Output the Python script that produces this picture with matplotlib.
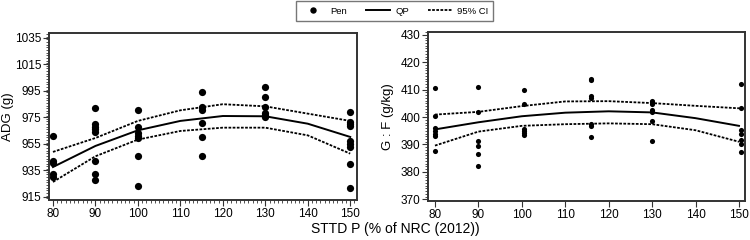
import numpy as np
import matplotlib.pyplot as plt
from matplotlib.ticker import MultipleLocator
from matplotlib.lines import Line2D

plt.rcParams['font.family'] = ['Liberation Sans', 'DejaVu Sans']

# --- ADG (левая панель): точки по загонам ---
adg_x = [80]*5 + [90]*8 + [100]*7 + [115]*6 + [130]*6 + [150]*9
adg_y = [961, 942, 940.5, 932.6, 930,
         982, 970, 968, 966, 964, 942, 932, 928,
         980.5, 968, 963.3, 961.3, 959.8, 945.8, 923.6,
         994.5, 982.7, 980.7, 970.6, 960.5, 945.9,
         997.8, 990.2, 982.7, 978.6, 976.9, 975.1,
         979.4, 971.9, 970.1, 968.6, 957.5, 955, 953, 939.9, 922]

# --- ADG: кривая QP и 95% ДИ ---
curve_x = [80, 90, 100, 110, 120, 130, 140, 150]
adg_fit = [937.6, 953.5, 965.3, 972.4, 976.1, 975.9, 970.3, 960.3]
adg_hi = [949, 959.5, 972.4, 980.4, 985, 983.4, 977.9, 972.4]
adg_lo = [926.3, 945.7, 958.3, 964.8, 967.3, 967.3, 961.5, 947.7]

# --- G:F (правая панель) ---
gf_x = [80]*7 + [90]*6 + [100.5]*6 + [116]*7 + [130]*7 + [150.5]*7
gf_y = [410.5, 400.3, 396, 395, 394, 393, 387.5,
        410.8, 401.8, 391.4, 389.5, 386.7, 382.2,
        410, 404.8, 395.8, 395, 394.2, 393.4,
        414, 413.6, 407.5, 406.8, 397.6, 396.8, 392.7,
        406, 405.4, 404.8, 402.6, 401.7, 398.6, 391.2,
        411.9, 403.2, 395.2, 393.7, 391.8, 390, 387.4]
gf_fit = [395.5, 398.1, 400.3, 401.6, 402.1, 401.7, 399.6, 396.8]
gf_hi = [400.9, 401.9, 404, 405.7, 405.8, 405.1, 404.1, 403.2]
gf_lo = [389.6, 394.7, 396.8, 397.4, 397.7, 397.4, 395.2, 391]

dot_style = (0, (1.5, 0.8))
spine_col = '#333333'

fig = plt.figure(figsize=(7.5, 2.4), dpi=100)
ax1 = fig.add_axes([0.0653, 0.1667, 0.4107, 0.696])
ax2 = fig.add_axes([0.5707, 0.1625, 0.4227, 0.704])

# левая панель
ax1.plot(adg_x, adg_y, 'o', color='black', ms=5.2, mew=0)
ax1.plot(curve_x, adg_fit, color='black', lw=1.4)
ax1.plot(curve_x, adg_hi, color='black', lw=1.3, ls=dot_style)
ax1.plot(curve_x, adg_lo, color='black', lw=1.3, ls=dot_style)
ax1.set_xlim(79.06, 151.6)
ax1.set_ylim(912.7, 1038.8)
ax1.set_xticks([80, 90, 100, 110, 120, 130, 140, 150])
ax1.set_yticks([915, 935, 955, 975, 995, 1015, 1035])
ax1.xaxis.set_minor_locator(MultipleLocator(1))
ax1.yaxis.set_minor_locator(MultipleLocator(2))
ax1.set_ylabel('ADG (g)', fontsize=9.5)
ax1.yaxis.set_label_coords(-0.112, 0.5)

# правая панель
ax2.plot(gf_x, gf_y, 'o', color='black', ms=3.7, mew=0)
ax2.plot(curve_x, gf_fit, color='black', lw=1.4)
ax2.plot(curve_x, gf_hi, color='black', lw=1.3, ls=dot_style)
ax2.plot(curve_x, gf_lo, color='black', lw=1.3, ls=dot_style)
ax2.set_xlim(78.4, 151.4)
ax2.set_ylim(369.4, 431)
ax2.set_xticks([80, 90, 100, 110, 120, 130, 140, 150])
ax2.set_yticks([370, 380, 390, 400, 410, 420, 430])
ax2.yaxis.set_minor_locator(MultipleLocator(1))
ax2.set_ylabel('G : F (g/kg)', fontsize=9.5)
ax2.yaxis.set_label_coords(-0.108, 0.5)

for ax in (ax1, ax2):
    for s in ax.spines.values():
        s.set_linewidth(1.4)
        s.set_color(spine_col)
    ax.tick_params(which='major', length=4, width=0.8, labelsize=8.5, pad=1.5, color=spine_col)
    ax.tick_params(which='minor', length=2, width=0.6, color=spine_col)

fig.text(0.527, 0.018, 'STTD P (% of NRC (2012))', fontsize=10, ha='center', va='bottom')

handles = [Line2D([], [], marker='o', ls='none', color='black', ms=4.6, mew=0),
           Line2D([], [], color='black', lw=1.4),
           Line2D([], [], color='black', lw=1.3, ls=dot_style)]
leg = fig.legend(handles, ['Pen', 'QP', '95% CI'], ncol=3, loc='upper center',
                 bbox_to_anchor=(0.526, 1.0), fontsize=6.8, frameon=True,
                 fancybox=False, handlelength=2.6, columnspacing=2.0,
                 borderpad=0.55, handletextpad=0.5, borderaxespad=0.15)
leg.get_frame().set_edgecolor('#555555')
leg.get_frame().set_linewidth(1.0)

plt.savefig('out.png', dpi=100)
